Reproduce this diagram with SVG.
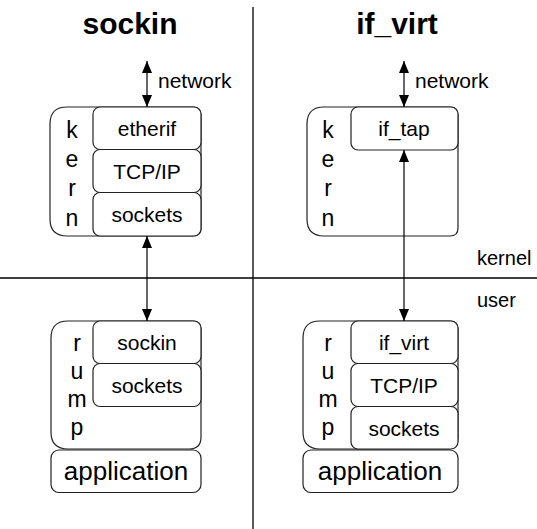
<svg xmlns="http://www.w3.org/2000/svg" width="537" height="529" viewBox="0 0 537 529">
  <defs>
    <marker id="ah" viewBox="0 0 12 10" refX="12" refY="5" markerWidth="12" markerHeight="10" markerUnits="userSpaceOnUse" orient="auto-start-reverse">
      <path d="M0,0 L12,5 L0,10 Z" fill="#000"/>
    </marker>
  </defs>
  <style>
    .box { fill: #fff; stroke: #222; stroke-width: 1.2; }
    .line { stroke: #000; stroke-width: 1.3; fill: none; }
    .arrow { stroke: #000; stroke-width: 1.2; fill: none; marker-start: url(#ah); marker-end: url(#ah); }
    text { font-family: "Liberation Sans", Arial, sans-serif; fill: #000; }
    .title { font-size: 30px; font-weight: bold; text-anchor: middle; }
    .lbl { font-size: 21px; text-anchor: middle; }
    .side { font-size: 23px; text-anchor: middle; }
    .app { font-size: 26px; text-anchor: middle; }
    .note { font-size: 20px; }
  </style>

  <rect width="537" height="529" fill="#fff"/>

  <!-- titles -->
  <text class="title" x="130" y="34">sockin</text>
  <text class="title" x="397" y="34">if_virt</text>

  <!-- dividing lines -->
  <g id="dividers">
    <line class="line" x1="253" y1="7" x2="253" y2="529"/>
    <line class="line" x1="0" y1="278" x2="537" y2="278"/>
    <text class="note" x="477" y="265">kernel</text>
    <text class="note" x="477" y="307">user</text>
  </g>

  <!-- sockin: kernel stack -->
  <g id="sockin-kern">
    <path class="box" d="M67,107 H193 Q201,107 201,115 V228 Q201,236 193,236 H67 Q50,236 50,219 V124 Q50,107 67,107 Z"/>
    <text class="side" x="72" y="138">k</text>
    <text class="side" x="72" y="167">e</text>
    <text class="side" x="72" y="196">r</text>
    <text class="side" x="72" y="226">n</text>
  </g>
  <g id="sockin-etherif">
    <rect class="box" x="93" y="107" width="108" height="42.5" rx="7"/>
    <text class="lbl" x="147" y="136">etherif</text>
  </g>
  <g id="sockin-tcpip">
    <rect class="box" x="93" y="149.5" width="108" height="43" rx="7"/>
    <text class="lbl" x="147" y="179">TCP/IP</text>
  </g>
  <g id="sockin-ksockets">
    <rect class="box" x="93" y="192.5" width="108" height="43.5" rx="7"/>
    <text class="lbl" x="147" y="222">sockets</text>
  </g>

  <!-- sockin: rump stack -->
  <g id="sockin-rump">
    <path class="box" d="M68,321 H193 Q201,321 201,329 V437 Q201,449 189,449 H68 Q51,449 51,432 V338 Q51,321 68,321 Z"/>
    <text class="side" x="77" y="351">r</text>
    <text class="side" x="77" y="379">u</text>
    <text class="side" x="77" y="407">m</text>
    <text class="side" x="77" y="435">p</text>
  </g>
  <g id="sockin-sockin">
    <rect class="box" x="93" y="321" width="108" height="42.5" rx="7"/>
    <text class="lbl" x="147" y="350">sockin</text>
  </g>
  <g id="sockin-rsockets">
    <rect class="box" x="93" y="363.5" width="108" height="43" rx="7"/>
    <text class="lbl" x="147" y="393">sockets</text>
  </g>
  <g id="sockin-app">
    <rect class="box" x="51" y="450" width="150" height="42.5" rx="8"/>
    <text class="app" x="126" y="480">application</text>
  </g>

  <!-- if_virt: kernel stack -->
  <g id="ifvirt-kern">
    <path class="box" d="M324,107 H450 Q458,107 458,115 V228 Q458,236 450,236 H324 Q307,236 307,219 V124 Q307,107 324,107 Z"/>
    <text class="side" x="328" y="138">k</text>
    <text class="side" x="328" y="167">e</text>
    <text class="side" x="328" y="196">r</text>
    <text class="side" x="328" y="226">n</text>
  </g>
  <g id="ifvirt-iftap">
    <rect class="box" x="351" y="107" width="107" height="43" rx="7"/>
    <text class="lbl" x="404" y="136">if_tap</text>
  </g>

  <!-- if_virt: rump stack -->
  <g id="ifvirt-rump">
    <path class="box" d="M320,321 H450 Q458,321 458,329 V437 Q458,449 446,449 H320 Q303,449 303,432 V338 Q303,321 320,321 Z"/>
    <text class="side" x="328" y="351">r</text>
    <text class="side" x="328" y="379">u</text>
    <text class="side" x="328" y="407">m</text>
    <text class="side" x="328" y="435">p</text>
  </g>
  <g id="ifvirt-ifvirt">
    <rect class="box" x="351" y="321" width="107" height="42.5" rx="7"/>
    <text class="lbl" x="404" y="350">if_virt</text>
  </g>
  <g id="ifvirt-tcpip">
    <rect class="box" x="351" y="363.5" width="107" height="43" rx="7"/>
    <text class="lbl" x="404" y="393">TCP/IP</text>
  </g>
  <g id="ifvirt-sockets">
    <rect class="box" x="351" y="406.5" width="107" height="42.5" rx="7"/>
    <text class="lbl" x="404" y="436">sockets</text>
  </g>
  <g id="ifvirt-app">
    <rect class="box" x="303" y="450" width="155" height="42.5" rx="8"/>
    <text class="app" x="380" y="480">application</text>
  </g>

  <!-- connectors -->
  <g id="connectors">
    <line class="arrow" x1="147" y1="61" x2="147" y2="107"/>
    <text class="lbl" x="158" y="88" style="text-anchor:start">network</text>
    <line class="arrow" x1="147" y1="236" x2="147" y2="321"/>
    <line class="arrow" x1="404" y1="61" x2="404" y2="107"/>
    <text class="lbl" x="415" y="88" style="text-anchor:start">network</text>
    <line class="arrow" x1="404" y1="150" x2="404" y2="321"/>
  </g>
</svg>
